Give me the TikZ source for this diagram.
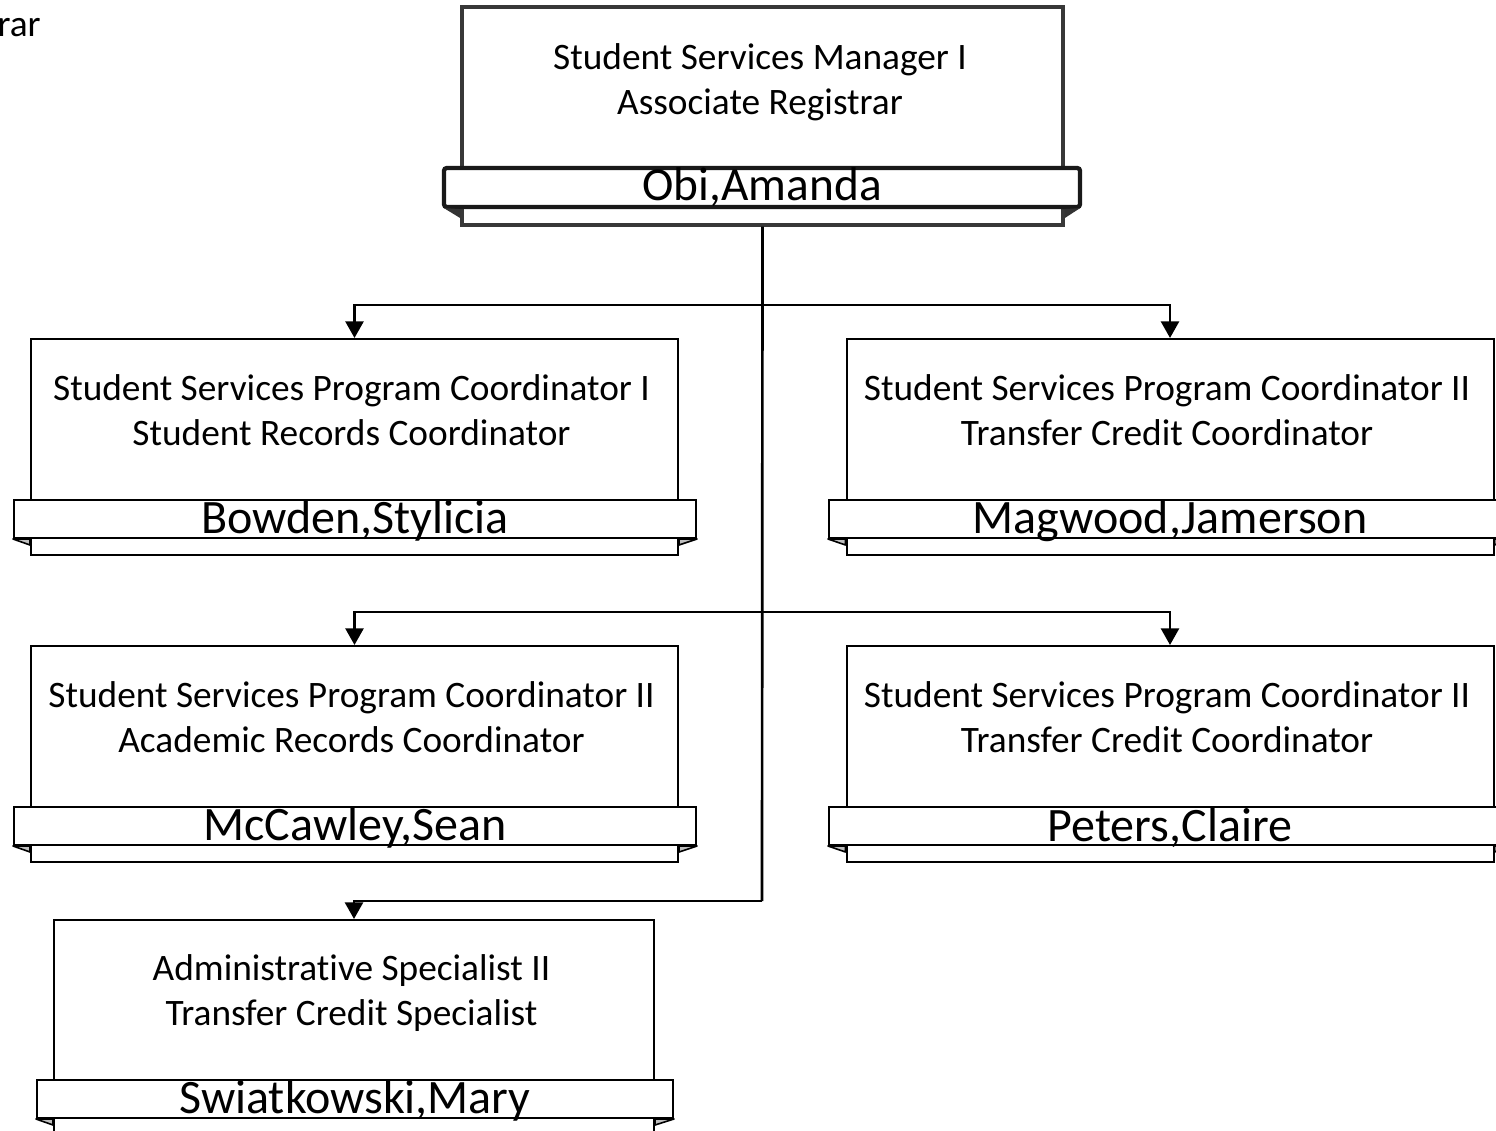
\documentclass[tikz,border=0pt]{standalone}
\usepackage{fontspec}
\setmainfont[Ligatures=NoCommon]{Carlito}
\usetikzlibrary{arrows.meta}
\begin{document}
\begin{tikzpicture}[x=0.75pt,y=-0.75pt,
  childbox/.style={draw=black,line width=1.5pt,fill=white,minimum width=485.25pt,minimum height=162pt,inner sep=0pt},
  banner/.style={draw=black,line width=1.5pt,fill=white,minimum width=511.5pt,minimum height=28.5pt,inner sep=0pt,font=\fontsize{36}{40}\selectfont},
  titletext/.style={align=center,font=\fontsize{28}{33.75}\selectfont,inner sep=0pt},
  fold/.style={fill=black!25,draw=black,line width=1.2pt,line join=round},
  conn/.style={draw=black,line width=2pt},
  arr/.style={conn,-{Triangle[width=13.5pt,length=12.5pt]}}]
\useasboundingbox (0,0) rectangle (1496,1131);
\clip (0,0) rectangle (1496,1131);
\fill[white] (0,0) rectangle (1496,1131);

\node[anchor=east,font=\fontsize{28}{33.75}\selectfont,inner sep=0pt] (rar) at (41,28) {rar};

% top box
\node[draw=black!78,line width=2.6pt,fill=white,minimum width=450.75pt,minimum height=163.5pt,inner sep=0pt] (top) at (762.5,116) {};
\node[titletext] (toptitle) at (760,82) {Student Services Manager I\\Associate Registrar};
\node[draw=black!90,line width=3.2pt,rounded corners=2pt,fill=white,minimum width=477pt,minimum height=24.75pt,inner sep=0pt,font=\fontsize{35.5}{40}\selectfont] (topb) at (762,187.5) {Obi,Amanda};
\fill[black!80] (topb.south west) ++(2,-1) -- (top.west |- topb.south) -- ++(0,9) -- cycle;
\fill[black!80] (topb.south east) ++(-2,-1) -- (top.east |- topb.south) -- ++(0,9) -- cycle;

% row 1
\node[childbox] (A) at (354.5,447) {};
\node[titletext] (At) at (351.5,410) {Student Services Program Coordinator I\\Student Records Coordinator};
\node[banner] (Ab) at (355,519) {};
\node[inner sep=0pt,font=\fontsize{36}{40}\selectfont] (An) at (355,521) {Bowden,Stylicia};
\filldraw[fold] (Ab.south west) -- (A.west |- Ab.south) -- ++(0,6) -- cycle;
\filldraw[fold] (Ab.south east) -- (A.east |- Ab.south) -- ++(0,6) -- cycle;

\node[childbox] (B) at (1170,447) {};
\node[titletext] (Bt) at (1167,410) {Student Services Program Coordinator II\\Transfer Credit Coordinator};
\node[banner] (Bb) at (1170,519) {};
\node[inner sep=0pt,font=\fontsize{36}{40}\selectfont] (Bn) at (1170,521) {Magwood,Jamerson};
\filldraw[fold] (Bb.south west) -- (B.west |- Bb.south) -- ++(0,6) -- cycle;
\filldraw[fold] (Bb.south east) -- (B.east |- Bb.south) -- ++(0,6) -- cycle;

% row 2
\node[childbox] (C) at (354.5,754) {};
\node[titletext] (Ct) at (351.5,717) {Student Services Program Coordinator II\\Academic Records Coordinator};
\node[banner] (Cb) at (355,826) {};
\node[inner sep=0pt,font=\fontsize{36}{40}\selectfont] (Cn) at (355,828) {McCawley,Sean};
\filldraw[fold] (Cb.south west) -- (C.west |- Cb.south) -- ++(0,6) -- cycle;
\filldraw[fold] (Cb.south east) -- (C.east |- Cb.south) -- ++(0,6) -- cycle;

\node[childbox] (D) at (1170,754) {};
\node[titletext] (Dt) at (1167,717) {Student Services Program Coordinator II\\Transfer Credit Coordinator};
\node[banner] (Db) at (1170,826) {};
\node[inner sep=0pt,font=\fontsize{36}{40}\selectfont] (Dn) at (1170,828) {Peters,Claire};
\filldraw[fold] (Db.south west) -- (D.west |- Db.south) -- ++(0,6) -- cycle;
\filldraw[fold] (Db.south east) -- (D.east |- Db.south) -- ++(0,6) -- cycle;

% row 3
\node[childbox,minimum width=450pt] (E) at (354,1028) {};
\node[titletext] (Et) at (351.5,993) {Administrative Specialist II\\Transfer Credit Specialist};
\node[banner,minimum width=477pt] (Eb) at (355,1099) {};
\node[inner sep=0pt,font=\fontsize{36}{40}\selectfont] (En) at (355,1101) {Swiatkowski,Mary};
\filldraw[fold] (Eb.south west) -- (E.west |- Eb.south) -- ++(0,6) -- cycle;
\filldraw[fold] (Eb.south east) -- (E.east |- Eb.south) -- ++(0,6) -- cycle;

% connectors
\coordinate (j1) at (762,305);
\coordinate (j2) at (762,612);
\coordinate (j3) at (762,901);
\draw[conn] (top.south) -- (j3);
\draw[arr] (j1) -| (A.north);
\draw[arr] (j1) -| (B.north);
\draw[arr] (j2) -| (C.north);
\draw[arr] (j2) -| (D.north);
\draw[arr] (j3) -| (E.north);
\end{tikzpicture}
\end{document}
